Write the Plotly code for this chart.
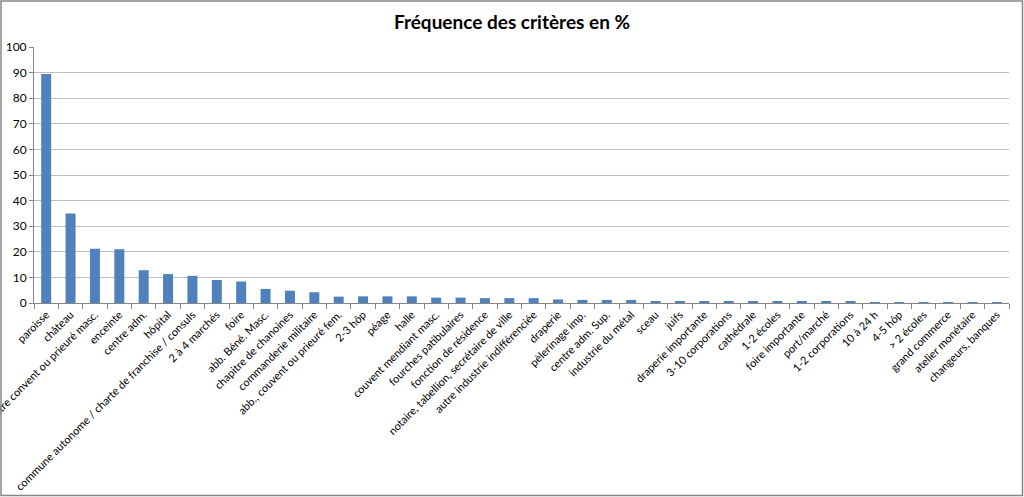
import plotly.graph_objects as go

categories = [
    "paroisse", "château", "autre convent ou prieuré masc.", "enceinte", "centre adm.",
    "hôpital", "commune autonome / charte de franchise / consuls", "2 à 4 marchés", "foire",
    "abb. Béné. Masc.", "chapitre de chanoines", "commanderie militaire",
    "abb., couvent ou prieuré fem.", "2-3 hôp", "péage", "halle", "couvent mendiant masc.",
    "fourches patibulaires", "fonction de résidence", "notaire, tabellion, secrétaire de ville",
    "autre industrie indifférenciée", "draperie", "pèlerinage imp.", "centre adm. Sup.",
    "industrie du métal", "sceau", "juifs", "draperie importante", "3-10 corporations",
    "cathédrale", "1-2 écoles", "foire importante", "port/marché", "1-2 corporations",
    "10 à 24 h", "4-5 hôp", "> 2 écoles", "grand commerce", "atelier monétaire",
    "changeurs, banques",
]
values = [
    89.5, 35.0, 21.2, 21.0, 12.8, 11.3, 10.6, 9.0, 8.4, 5.5, 4.8, 4.2,
    2.5, 2.6, 2.6, 2.6, 2.1, 2.1, 1.9, 1.9, 1.9, 1.4, 1.2, 1.2, 1.2,
    0.7, 0.7, 0.7, 0.7, 0.5, 0.5, 0.5, 0.5, 0.5,
    0.2, 0.2, 0.2, 0.2, 0.2, 0.2,
]
y_ticks = list(range(0, 101, 10))

W, H = 1024, 497
L, R, T, B = 34, 15, 47, 194
pw, ph = W - L - R, H - T - B

fig = go.Figure(go.Bar(x=categories, y=values, marker=dict(color="#4f81bd", line=dict(width=0))))

def px2paper_x(px):
    return (px - L) / pw

def px2paper_y(py):
    return (H - B - py) / ph

fig.add_shape(type="rect", xref="paper", yref="paper",
              x0=px2paper_x(1), x1=px2paper_x(1022.5), y0=px2paper_y(495.5), y1=px2paper_y(1),
              line=dict(color="#868686", width=1.5), fillcolor="rgba(0,0,0,0)")

fig.update_layout(
    width=W, height=H,
    margin=dict(l=L, r=R, t=T, b=B, autoexpand=False),
    paper_bgcolor="white", plot_bgcolor="white",
    font=dict(family="Lato, 'Open Sans', sans-serif", color="#000000", size=11),
    title=dict(text="<b>Fréquence des critères en %</b>", x=0.5, xref="container", xanchor="center",
               y=1 - 22 / H, yref="container", yanchor="middle",
               font=dict(size=19, family="Lato, sans-serif", color="#000000")),
    bargap=0.59,
    showlegend=False,
    xaxis=dict(
        tickangle=-45, tickfont=dict(size=11), automargin=False,
        showline=True, linecolor="#868686", linewidth=1,
        ticks="outside", ticklen=5, tickcolor="#868686", tickson="boundaries",
        showgrid=False, range=[-0.5, len(categories) - 0.5],
    ),
    yaxis=dict(
        range=[0, 100], tickvals=y_ticks, tickfont=dict(size=12), automargin=False,
        showline=True, linecolor="#868686", linewidth=1,
        ticks="outside", ticklen=4, tickcolor="#868686",
        showgrid=True, gridcolor="#bfbfbf", gridwidth=1, zeroline=False,
    ),
)

fig.write_html("out.html", config={"displayModeBar": False},
               post_script="document.body.style.margin='0';document.body.style.overflow='hidden';")
